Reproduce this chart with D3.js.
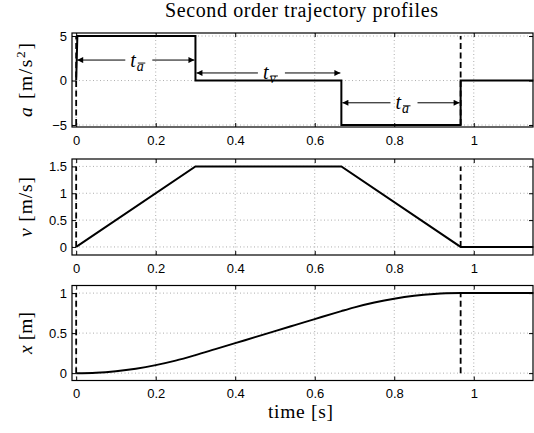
<!DOCTYPE html>
<html>
<head>
<meta charset="utf-8">
<script src="https://cdn.jsdelivr.net/npm/d3@7"></script>
<style>
body { margin: 0; background: #fff; }
svg { display: block; }
.tick text { font-family: "Liberation Sans", Arial, sans-serif; font-size: 13px; fill: #000; }
</style>
</head>
<body>
<div id="chart"></div>
<script>
// time breakpoints and signals
let accTime = [0, 0.003, 0.3, 0.3, 0.667, 0.667, 0.967, 0.967, 1.15];
let accVals = [0, 5, 5, 0, 0, -5, -5, 0, 0];
let velTime = [0, 0.3, 0.667, 0.967, 1.15];
let velVals = [0, 1.5, 1.5, 0, 0];
let posTime = [0, 0.05, 0.1, 0.15, 0.2, 0.25, 0.3, 0.35, 0.4, 0.45, 0.5, 0.55, 0.6, 0.65, 0.667, 0.7, 0.75, 0.8, 0.85, 0.9, 0.93, 0.967, 1.15];
let posVals = [0, 0.006, 0.025, 0.056, 0.1, 0.156, 0.225, 0.3, 0.375, 0.45, 0.525, 0.6, 0.675, 0.75, 0.775, 0.822, 0.882, 0.93, 0.966, 0.989, 0.997, 1, 1];
let switchTimes = [0, 0.967];
let xTicks = [0, 0.2, 0.4, 0.6, 0.8, 1];
let xTickLabels = ["0", "0.2", "0.4", "0.6", "0.8", "1"];
let accTicks = [-5, 0, 5];
let velTicks = [0, 0.5, 1, 1.5];
let posTicks = [0, 0.5, 1];
// annotation spans: [start, end, level]
let spans = [
    {t0: 0, t1: 0.3, y: 2.3, sub: "a"},
    {t0: 0.3, t1: 0.667, y: 0.85, sub: "v"},
    {t0: 0.667, t1: 0.967, y: -2.5, sub: "a"}
];

let w = 534, h = 433;
let left = 72, right = 533;
let serif = "'Liberation Serif', 'Times New Roman', serif";

let svg = d3.select("#chart").append("svg")
    .attr("width", w)
    .attr("height", h);

let x = d3.scaleLinear().domain([-0.0105, 1.149]).range([left, right]);

let panels = [
    {time: accTime, vals: accVals, ticks: accTicks, domain: [-5.22, 5.34], top: 33, bottom: 127,
     sym: "a", unit: "[m/s", sup: "2", tail: "]", len: 74},
    {time: velTime, vals: velVals, ticks: velTicks, domain: [-0.15, 1.638], top: 159, bottom: 255,
     sym: "v", unit: "[m/s]", sup: null, tail: "", len: 60},
    {time: posTime, vals: posVals, ticks: posTicks, domain: [-0.092, 1.095], top: 285.5, bottom: 380.5,
     sym: "x", unit: "[m]", sup: null, tail: "", len: 42}
];

let defs = svg.append("defs");
defs.append("marker")
    .attr("id", "arr")
    .attr("viewBox", "0 0 10 10")
    .attr("refX", 10).attr("refY", 5)
    .attr("markerWidth", 9).attr("markerHeight", 6)
    .attr("markerUnits", "userSpaceOnUse")
    .attr("orient", "auto-start-reverse")
    .append("path")
    .attr("d", "M0,0 L10,5 L0,10 Z")
    .attr("fill", "#000");

panels.forEach(function(p, i) {
    let y = d3.scaleLinear().domain(p.domain).range([p.bottom, p.top]);
    let g = svg.append("g");

    // grid
    g.selectAll(".gx").data(xTicks).enter().append("line")
        .attr("x1", d => x(d)).attr("x2", d => x(d))
        .attr("y1", p.top).attr("y2", p.bottom)
        .attr("stroke", "#999").attr("stroke-width", 0.8)
        .attr("stroke-dasharray", "1,2.5");
    g.selectAll(".gy").data(p.ticks).enter().append("line")
        .attr("x1", left).attr("x2", right)
        .attr("y1", d => y(d)).attr("y2", d => y(d))
        .attr("stroke", "#999").attr("stroke-width", 0.8)
        .attr("stroke-dasharray", "1,2.5");

    // axes with inward ticks
    let xa = d3.axisBottom(x).tickValues(xTicks).tickSize(-4).tickPadding(8.5)
        .tickFormat((d, k) => xTickLabels[k]);
    g.append("g").attr("transform", "translate(0," + p.bottom + ")").call(xa)
        .call(s => s.select(".domain").remove());
    g.append("g").attr("transform", "translate(0," + p.top + ")")
        .call(d3.axisTop(x).tickValues(xTicks).tickSize(-4).tickFormat(""))
        .call(s => s.select(".domain").remove());
    let ya = d3.axisLeft(y).tickValues(p.ticks).tickSize(-4).tickPadding(5).tickFormat(d3.format("~g"));
    g.append("g").attr("transform", "translate(" + left + ",0)").call(ya)
        .call(s => s.select(".domain").remove());
    g.append("g").attr("transform", "translate(" + right + ",0)")
        .call(d3.axisRight(y).tickValues(p.ticks).tickSize(-4).tickFormat(""))
        .call(s => s.select(".domain").remove());
    g.selectAll(".tick line").attr("stroke", "#000");

    // frame
    g.append("rect")
        .attr("x", left).attr("y", p.top)
        .attr("width", right - left).attr("height", p.bottom - p.top)
        .attr("fill", "none").attr("stroke", "#000").attr("stroke-width", 1.2);

    // dashed switching lines
    let ext = d3.extent(p.vals);
    g.selectAll(".sw").data(switchTimes).enter().append("line")
        .attr("x1", d => x(d)).attr("x2", d => x(d))
        .attr("y1", y(ext[0])).attr("y2", y(ext[1]))
        .attr("stroke", "#000").attr("stroke-width", 1.8)
        .attr("stroke-dasharray", "6,3.5");

    // signal
    let line = d3.line()
        .x((d, k) => x(p.time[k]))
        .y(d => y(d));
    if (i === 2) line.curve(d3.curveMonotoneX);
    g.append("path")
        .datum(p.vals)
        .attr("d", line)
        .attr("fill", "none")
        .attr("stroke", "#000")
        .attr("stroke-width", 2);

    // y label
    let lab = svg.append("text")
        .attr("transform", "translate(32," + (p.top + p.bottom) / 2 + ") rotate(-90)")
        .attr("text-anchor", "middle")
        .attr("textLength", p.len)
        .attr("lengthAdjust", "spacing")
        .style("font-family", serif)
        .style("font-size", "19.5px");
    lab.append("tspan").style("font-style", "italic").text(p.sym);
    lab.append("tspan").text(" " + p.unit);
    if (p.sup) {
        lab.append("tspan").attr("dy", -7).style("font-size", "13.5px").text(p.sup);
        lab.append("tspan").attr("dy", 7).text(p.tail);
    }

    // span annotations in the acceleration plot
    if (i === 0) {
        spans.forEach(function(s) {
            let xa0 = x(s.t0) + 1, xa1 = x(s.t1) - 1, yy = y(s.y), xm = (xa0 + xa1) / 2;
            let tx = xm - 5.5;
            g.append("line")
                .attr("x1", tx - 5).attr("x2", xa0).attr("y1", yy).attr("y2", yy)
                .attr("stroke", "#000").attr("stroke-width", 1)
                .attr("marker-end", "url(#arr)");
            g.append("line")
                .attr("x1", tx + 22).attr("x2", xa1).attr("y1", yy).attr("y2", yy)
                .attr("stroke", "#000").attr("stroke-width", 1)
                .attr("marker-end", "url(#arr)");
            let t = g.append("text")
                .attr("x", tx).attr("y", yy + 6.5)
                .style("font-family", serif)
                .style("font-size", "20px");
            t.append("tspan").style("font-style", "italic").text("t");
            t.append("tspan").attr("dx", 1).attr("dy", 4).style("font-size", "14px")
                .style("font-style", "italic").text(s.sub);
            g.append("line")
                .attr("x1", tx + 7.5).attr("x2", tx + 15)
                .attr("y1", yy + 3).attr("y2", yy + 3)
                .attr("stroke", "#000").attr("stroke-width", 0.9);
        });
    }
});

// title and x label
svg.append("text")
    .attr("x", 301.5).attr("y", 16.5)
    .attr("text-anchor", "middle")
    .attr("textLength", 273)
    .attr("lengthAdjust", "spacing")
    .style("font-family", serif)
    .style("font-size", "20px")
    .text("Second order trajectory profiles");

svg.append("text")
    .attr("x", 300.5).attr("y", 418)
    .attr("text-anchor", "middle")
    .attr("textLength", 65)
    .attr("lengthAdjust", "spacing")
    .style("font-family", serif)
    .style("font-size", "19.5px")
    .text("time [s]");
</script>
</body>
</html>
